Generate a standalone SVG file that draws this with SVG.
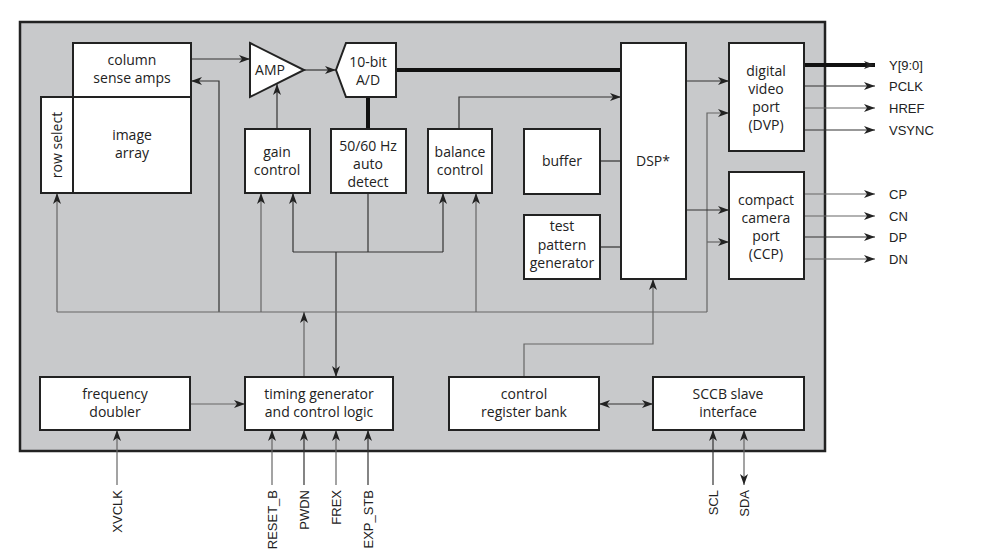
<svg xmlns="http://www.w3.org/2000/svg" width="1001" height="552" viewBox="0 0 1001 552">
<defs>
<marker id="a" markerWidth="12" markerHeight="8" refX="11" refY="4" orient="auto-start-reverse" markerUnits="userSpaceOnUse"><path d="M0,0 L11,4 L0,8 L3,4 Z" fill="#222"/></marker>
</defs>
<style>
.b{fill:#fff;stroke:#222;stroke-width:2}
.t{font-family:"Open Sans","Liberation Sans",sans-serif;font-size:14px;fill:#222;text-anchor:middle}
.p{font-family:"Liberation Sans",sans-serif;font-size:13px;fill:#222}
.l{fill:none;stroke:#333;stroke-width:1.2}
.g{fill:none;stroke:#666;stroke-width:1.2}
.k{fill:none;stroke:#111;stroke-width:4}
</style>
<rect x="0" y="0" width="1001" height="552" fill="#fff"/>
<rect x="20" y="22" width="805" height="429" fill="#c8c9cb" stroke="#222" stroke-width="2.5"/>
<g id="connectors">
<path class="k" d="M396,70 H621"/>
<path class="k" d="M368,97 V129"/>
<path class="k" d="M804,65 H875" marker-end="url(#a)"/>
<path class="l" d="M191,59 H250" marker-end="url(#a)"/>
<path class="l" d="M304,70 H336" marker-end="url(#a)"/>
<path class="l" d="M277,129 V84" marker-end="url(#a)"/>
<path class="l" d="M219,312 V81 H191" marker-end="url(#a)"/>
<path class="l" d="M459,129 V97 H621" marker-end="url(#a)"/>
<path class="l" d="M368,193 V252"/>
<path class="l" d="M293,252 H443"/>
<path class="l" d="M293,252 V193" marker-end="url(#a)"/>
<path class="l" d="M443,252 V193" marker-end="url(#a)"/>
<path class="l" d="M336,252 V377" marker-end="url(#a)"/>
<path class="g" d="M57,312 H707"/>
<path class="g" d="M57,312 V193" marker-end="url(#a)"/>
<path class="g" d="M261,312 V193" marker-end="url(#a)"/>
<path class="g" d="M476,312 V193" marker-end="url(#a)"/>
<path class="g" d="M304,377 V312" marker-end="url(#a)"/>
<path class="g" d="M707,312 V113 H729" marker-end="url(#a)"/>
<path class="g" d="M707,242 H729" marker-end="url(#a)"/>
<path class="l" d="M600,161 H621"/>
<path class="l" d="M600,247 H621"/>
<path class="l" d="M686,81 H729" marker-end="url(#a)"/>
<path class="l" d="M686,210 H729" marker-end="url(#a)"/>
<path class="g" d="M524,377 V344 H653 V279" marker-end="url(#a)"/>
<path class="l" d="M804,86 H875" marker-end="url(#a)"/>
<path class="g" d="M804,108 H875" marker-end="url(#a)"/>
<path class="l" d="M804,130 H875" marker-end="url(#a)"/>
<path class="g" d="M804,194 H875" marker-end="url(#a)"/>
<path class="g" d="M804,216 H875" marker-end="url(#a)"/>
<path class="l" d="M804,237 H875" marker-end="url(#a)"/>
<path class="g" d="M804,259 H875" marker-end="url(#a)"/>
<path class="g" d="M190,404 H245" marker-end="url(#a)"/>
<path class="l" d="M599,404 H653" marker-start="url(#a)" marker-end="url(#a)"/>
<path class="g" d="M117,485 V430" marker-end="url(#a)"/>
<path class="g" d="M272,485 V430" marker-end="url(#a)"/>
<path class="l" d="M304,485 V430" marker-end="url(#a)"/>
<path class="g" d="M336,485 V430" marker-end="url(#a)"/>
<path class="l" d="M368,485 V430" marker-end="url(#a)"/>
<path class="l" d="M713,485 V430" marker-end="url(#a)"/>
<path class="g" d="M744,485 V430" marker-start="url(#a)" marker-end="url(#a)"/>
</g>
<g id="colsense"><rect class="b" x="73" y="43" width="118" height="54"/><text class="t" x="132" y="65">column</text><text class="t" x="132" y="83">sense amps</text></g>
<g id="rowselect"><rect class="b" x="41" y="97" width="32" height="96"/><text class="t" transform="translate(62,145) rotate(-90)">row select</text></g>
<g id="imagearray"><rect class="b" x="73" y="97" width="118" height="96"/><text class="t" x="132" y="140">image</text><text class="t" x="132" y="158">array</text></g>
<g id="amp"><path class="b" d="M250,43 L304,70 L250,97 Z"/><text class="t" x="270" y="75">AMP</text></g>
<g id="ad"><path class="b" d="M346,43 H396 V97 H346 L336,70 Z"/><text class="t" x="368" y="67">10-bit</text><text class="t" x="368" y="85">A/D</text></g>
<g id="gain"><rect class="b" x="245" y="129" width="65" height="64"/><text class="t" x="277" y="157">gain</text><text class="t" x="277" y="175">control</text></g>
<g id="hz"><rect class="b" x="331" y="129" width="75" height="64"/><text class="t" x="368" y="151">50/60 Hz</text><text class="t" x="368" y="169">auto</text><text class="t" x="368" y="187">detect</text></g>
<g id="balance"><rect class="b" x="428" y="129" width="64" height="64"/><text class="t" x="460" y="157">balance</text><text class="t" x="460" y="175">control</text></g>
<g id="buffer"><rect class="b" x="524" y="129" width="76" height="65"/><text class="t" x="562" y="166">buffer</text></g>
<g id="testpattern"><rect class="b" x="524" y="215" width="76" height="64"/><text class="t" x="562" y="231">test</text><text class="t" x="562" y="250">pattern</text><text class="t" x="562" y="268">generator</text></g>
<g id="dsp"><rect class="b" x="621" y="43" width="65" height="236"/><text class="t" x="653" y="166">DSP*</text></g>
<g id="dvp"><rect class="b" x="729" y="43" width="75" height="108"/><text class="t" x="766" y="76">digital</text><text class="t" x="766" y="94">video</text><text class="t" x="766" y="112">port</text><text class="t" x="766" y="130">(DVP)</text></g>
<g id="ccp"><rect class="b" x="729" y="172" width="75" height="107"/><text class="t" x="766" y="205">compact</text><text class="t" x="766" y="223">camera</text><text class="t" x="766" y="241">port</text><text class="t" x="766" y="259">(CCP)</text></g>
<g id="freq"><rect class="b" x="40" y="377" width="150" height="53"/><text class="t" x="115" y="399">frequency</text><text class="t" x="115" y="417">doubler</text></g>
<g id="timing"><rect class="b" x="245" y="377" width="148" height="53"/><text class="t" x="319" y="399">timing generator</text><text class="t" x="319" y="417">and control logic</text></g>
<g id="regbank"><rect class="b" x="449" y="377" width="150" height="53"/><text class="t" x="524" y="399">control</text><text class="t" x="524" y="417">register bank</text></g>
<g id="sccb"><rect class="b" x="653" y="377" width="151" height="53"/><text class="t" x="728" y="399">SCCB slave</text><text class="t" x="728" y="417">interface</text></g>
<g id="labels">
<text class="p" x="889" y="70">Y[9:0]</text>
<text class="p" x="889" y="91">PCLK</text>
<text class="p" x="889" y="113">HREF</text>
<text class="p" x="889" y="135">VSYNC</text>
<text class="p" x="889" y="199">CP</text>
<text class="p" x="889" y="221">CN</text>
<text class="p" x="889" y="242">DP</text>
<text class="p" x="889" y="264">DN</text>
<text class="p" text-anchor="end" transform="translate(122,490) rotate(-90)">XVCLK</text>
<text class="p" text-anchor="end" transform="translate(277,490) rotate(-90)">RESET_B</text>
<text class="p" text-anchor="end" transform="translate(309,490) rotate(-90)">PWDN</text>
<text class="p" text-anchor="end" transform="translate(341,490) rotate(-90)">FREX</text>
<text class="p" text-anchor="end" transform="translate(373,490) rotate(-90)">EXP_STB</text>
<text class="p" text-anchor="end" transform="translate(718,490) rotate(-90)">SCL</text>
<text class="p" text-anchor="end" transform="translate(749,490) rotate(-90)">SDA</text>
</g>
</svg>
